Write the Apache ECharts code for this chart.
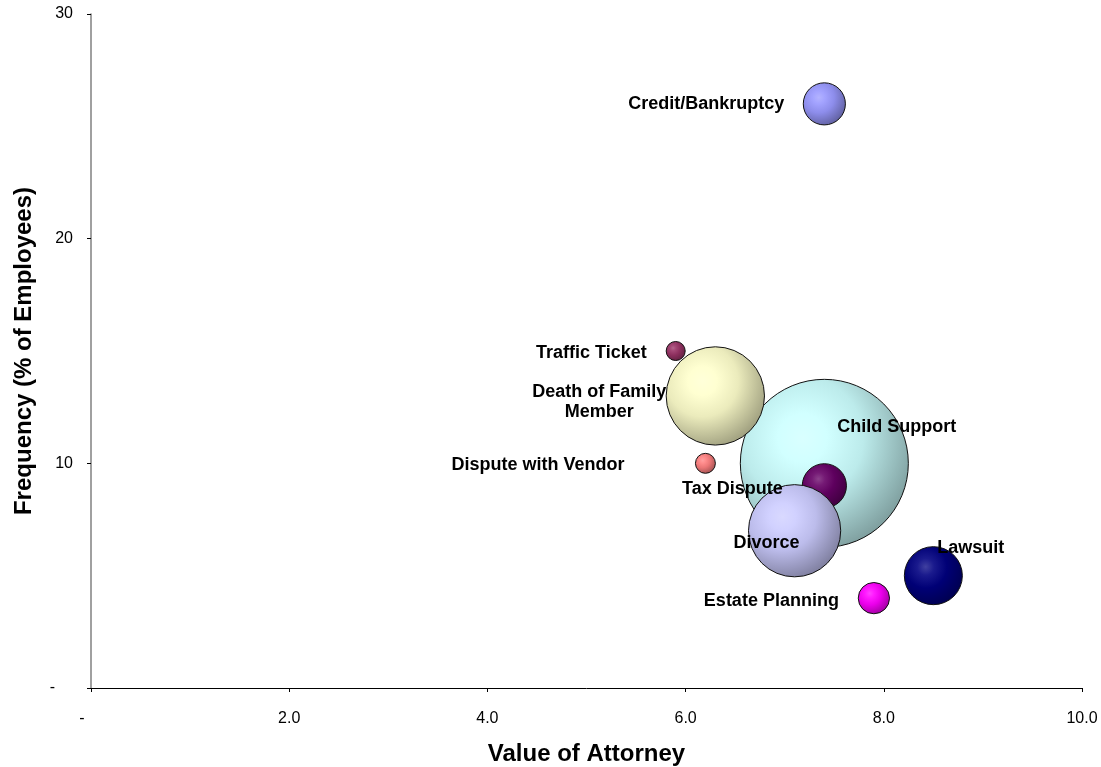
<!DOCTYPE html>
<html>
<head>
<meta charset="utf-8">
<script src="https://cdn.jsdelivr.net/npm/echarts@6/dist/echarts.min.js"></script>
<style>
  html, body { margin: 0; padding: 0; background: #fff; }
  #chart { width: 1101px; height: 767px; }
</style>
</head>
<body>
<div id="chart"></div>
<script>
// data
const issues = ['Child Support', 'Death of Family\nMember', 'Credit/Bankruptcy', 'Tax Dispute', 'Divorce',
  'Lawsuit', 'Estate Planning', 'Traffic Ticket', 'Dispute with Vendor']
const attorneyValue = [7.4, 6.3, 7.4, 7.4, 7.1, 8.5, 7.9, 5.9, 6.2]
const frequency = [10, 13, 26, 9, 7, 5, 4, 15, 10]
const bubbleSize = [78, 26.7, 4.9, 5.4, 23.5, 9.3, 2.7, 1.0, 1.1]
const xTicks = [0, 2, 4, 6, 8, 10]
const yTicks = [0, 10, 20, 30]

// styling per point (Excel palette, label placement)
const colors = ['#ccffff', '#ffffcc', '#9999ff', '#660066', '#ccccff', '#000080', '#ff00ff', '#993366', '#ff8080']
const labelAlign = ['left', 'center', 'right', 'center', 'center', 'left', 'right', 'right', 'right']
const labelShift = [[13, -36], [-116, 6], [-40, 0], [-92, 3], [-28, 12], [4, -28], [-35, 3], [-29, 2], [-81, 2]]

const maxSize = Math.max(...bubbleSize)
const maxDiameter = 168

function mix(hex, target, t) {
  const n = parseInt(hex.slice(1), 16)
  const c = [(n >> 16) & 255, (n >> 8) & 255, n & 255]
  const out = c.map(v => Math.round(v + (target - v) * t))
  return 'rgb(' + out.join(',') + ')'
}

function sphere(hex) {
  return new echarts.graphic.RadialGradient(0.37, 0.35, 0.72, [
    { offset: 0, color: mix(hex, 255, 0.25) },
    { offset: 0.2, color: mix(hex, 255, 0.1) },
    { offset: 0.5, color: mix(hex, 0, 0.08) },
    { offset: 1, color: mix(hex, 0, 0.4) },
  ])
}

const points = issues.map((name, i) => ({
  name: name,
  value: [attorneyValue[i], frequency[i], bubbleSize[i]],
  itemStyle: { color: sphere(colors[i]) },
  label: { align: labelAlign[i] },
}))

const chart = echarts.init(document.getElementById('chart'))
chart.setOption({
  backgroundColor: '#fff',
  animation: false,
  grid: { left: 91, right: 19, top: 14, bottom: 79, outerBoundsMode: 'none', containLabel: false },
  xAxis: {
    type: 'value',
    min: xTicks[0],
    max: xTicks[xTicks.length - 1],
    interval: 2,
    name: 'Value of Attorney',
    nameLocation: 'middle',
    nameGap: 54,
    nameTextStyle: { fontFamily: 'Liberation Sans', fontSize: 24, fontWeight: 'bold', color: '#000' },
    axisLine: { lineStyle: { color: '#000', width: 1 } },
    axisTick: { show: true, length: 4, lineStyle: { color: '#000' } },
    splitLine: { show: false },
    axisLabel: {
      margin: 23,
      color: '#000',
      fontFamily: 'Liberation Sans',
      fontSize: 16,
      formatter: v => (v === 0 ? '{d|-}' : v.toFixed(1)),
      rich: { d: { fontFamily: 'Liberation Sans', fontSize: 16, color: '#000', padding: [0, 18, 0, 0] } },
    },
  },
  yAxis: {
    type: 'value',
    min: yTicks[0],
    max: yTicks[yTicks.length - 1],
    interval: 10,
    name: 'Frequency (% of Employees)',
    nameLocation: 'middle',
    nameGap: 55,
    nameTextStyle: { fontFamily: 'Liberation Sans', fontSize: 24, fontWeight: 'bold', color: '#000' },
    axisLine: { show: true, lineStyle: { color: '#808080', width: 1.5 } },
    axisTick: { show: true, length: 4, lineStyle: { color: '#000' } },
    splitLine: { show: false },
    axisLabel: {
      margin: 18,
      color: '#000',
      fontFamily: 'Liberation Sans',
      fontSize: 16,
      formatter: v => (v === 0 ? '{d|-}' : String(v)),
      rich: { d: { fontFamily: 'Liberation Sans', fontSize: 16, color: '#000', padding: [0, 18, 0, 0] } },
    },
  },
  series: [
    {
      type: 'scatter',
      data: points,
      symbolSize: v => maxDiameter * Math.sqrt(v[2] / maxSize),
      itemStyle: { borderColor: '#111', borderWidth: 1, opacity: 1 },
      emphasis: { disabled: true },
      label: {
        show: true,
        position: 'inside',
        formatter: p => p.name,
        color: '#000',
        textBorderWidth: 0,
        opacity: 1,
        fontFamily: 'Liberation Sans',
        fontSize: 18,
        fontWeight: 'bold',
        lineHeight: 20,
      },
      labelLayout: p => ({ dx: labelShift[p.dataIndex][0], dy: labelShift[p.dataIndex][1], hideOverlap: false }),
    },
  ],
})
</script>
</body>
</html>
